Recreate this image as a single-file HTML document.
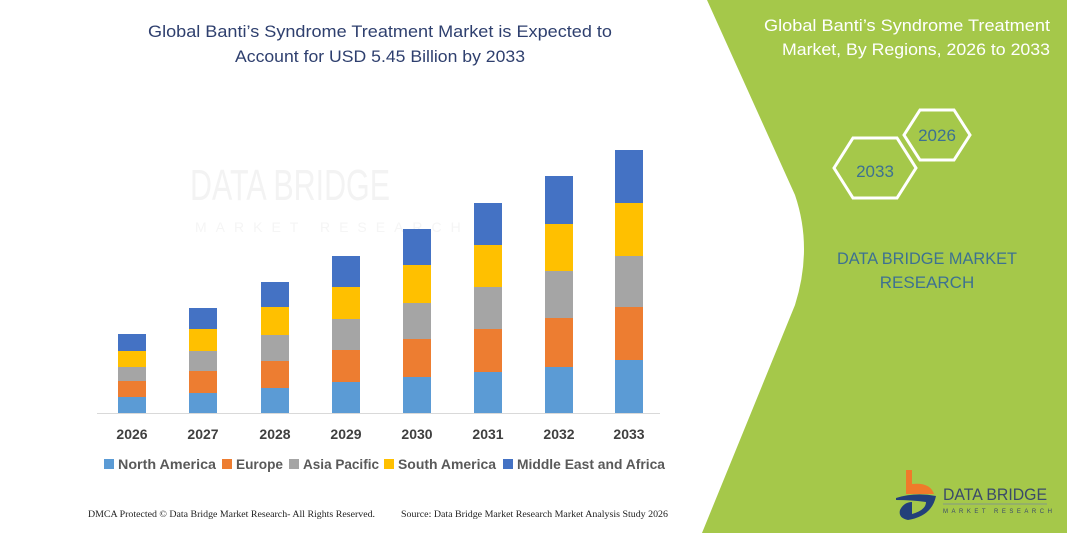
<!DOCTYPE html>
<html><head><meta charset="utf-8"><style>
html,body{margin:0;padding:0;background:#fff;}
svg{display:block;}
</style></head><body>
<svg width="1067" height="533" viewBox="0 0 1067 533" xmlns="http://www.w3.org/2000/svg" font-family="Liberation Sans, sans-serif">
<rect width="1067" height="533" fill="#fff"/>
<!-- green panel -->
<path d="M707,0 L1067,0 L1067,533 L702,533 L795,305 Q813,248 795,195 Z" fill="#a5c84a"/>
<!-- watermark -->
<text x="190" y="200" font-size="44" fill="#f3f3f3" textLength="200" lengthAdjust="spacingAndGlyphs">DATA BRIDGE</text>
<text x="195" y="232" font-size="14" fill="#f5f5f5" letter-spacing="9">MARKET RESEARCH</text>
<!-- title -->
<g fill="#2e3f6e" font-size="17" text-anchor="middle">
<text x="380" y="37" textLength="464" lengthAdjust="spacingAndGlyphs">Global Banti’s Syndrome Treatment Market is Expected to</text>
<text x="380" y="62" textLength="290" lengthAdjust="spacingAndGlyphs">Account for USD 5.45 Billion by 2033</text>
</g>
<!-- axis -->
<line x1="97" y1="413.5" x2="660" y2="413.5" stroke="#d9d9d9" stroke-width="1"/>
<!-- bars -->
<g>
<g transform="translate(118,0)"><rect y="397" width="28" height="16" fill="#5b9bd5"/><rect y="381" width="28" height="16" fill="#ed7d31"/><rect y="367" width="28" height="14" fill="#a5a5a5"/><rect y="351" width="28" height="16" fill="#ffc000"/><rect y="334" width="28" height="17" fill="#4472c4"/></g>
<g transform="translate(189,0)"><rect y="393" width="28" height="20" fill="#5b9bd5"/><rect y="371" width="28" height="22" fill="#ed7d31"/><rect y="351" width="28" height="20" fill="#a5a5a5"/><rect y="329" width="28" height="22" fill="#ffc000"/><rect y="308" width="28" height="21" fill="#4472c4"/></g>
<g transform="translate(261,0)"><rect y="388" width="28" height="25" fill="#5b9bd5"/><rect y="361" width="28" height="27" fill="#ed7d31"/><rect y="335" width="28" height="26" fill="#a5a5a5"/><rect y="307" width="28" height="28" fill="#ffc000"/><rect y="282" width="28" height="25" fill="#4472c4"/></g>
<g transform="translate(332,0)"><rect y="382" width="28" height="31" fill="#5b9bd5"/><rect y="350" width="28" height="32" fill="#ed7d31"/><rect y="319" width="28" height="31" fill="#a5a5a5"/><rect y="287" width="28" height="32" fill="#ffc000"/><rect y="256" width="28" height="31" fill="#4472c4"/></g>
<g transform="translate(403,0)"><rect y="377" width="28" height="36" fill="#5b9bd5"/><rect y="339" width="28" height="38" fill="#ed7d31"/><rect y="303" width="28" height="36" fill="#a5a5a5"/><rect y="265" width="28" height="38" fill="#ffc000"/><rect y="229" width="28" height="36" fill="#4472c4"/></g>
<g transform="translate(474,0)"><rect y="372" width="28" height="41" fill="#5b9bd5"/><rect y="329" width="28" height="43" fill="#ed7d31"/><rect y="287" width="28" height="42" fill="#a5a5a5"/><rect y="245" width="28" height="42" fill="#ffc000"/><rect y="203" width="28" height="42" fill="#4472c4"/></g>
<g transform="translate(545,0)"><rect y="367" width="28" height="46" fill="#5b9bd5"/><rect y="318" width="28" height="49" fill="#ed7d31"/><rect y="271" width="28" height="47" fill="#a5a5a5"/><rect y="224" width="28" height="47" fill="#ffc000"/><rect y="176" width="28" height="48" fill="#4472c4"/></g>
<g transform="translate(615,0)"><rect y="360" width="28" height="53" fill="#5b9bd5"/><rect y="307" width="28" height="53" fill="#ed7d31"/><rect y="256" width="28" height="51" fill="#a5a5a5"/><rect y="203" width="28" height="53" fill="#ffc000"/><rect y="150" width="28" height="53" fill="#4472c4"/></g>
</g>
<!-- year labels -->
<g fill="#404040" font-size="14" font-weight="bold" text-anchor="middle">
<text x="132" y="439">2026</text><text x="203" y="439">2027</text><text x="275" y="439">2028</text><text x="346" y="439">2029</text>
<text x="417" y="439">2030</text><text x="488" y="439">2031</text><text x="559" y="439">2032</text><text x="629" y="439">2033</text>
</g>
<!-- legend -->
<g font-size="14" font-weight="bold" fill="#595959">
<rect x="104" y="459" width="10" height="10" fill="#5b9bd5"/><text x="118" y="469" textLength="98" lengthAdjust="spacingAndGlyphs">North America</text>
<rect x="222" y="459" width="10" height="10" fill="#ed7d31"/><text x="236" y="469" textLength="47" lengthAdjust="spacingAndGlyphs">Europe</text>
<rect x="289" y="459" width="10" height="10" fill="#a5a5a5"/><text x="303" y="469" textLength="76" lengthAdjust="spacingAndGlyphs">Asia Pacific</text>
<rect x="384" y="459" width="10" height="10" fill="#ffc000"/><text x="398" y="469" textLength="98" lengthAdjust="spacingAndGlyphs">South America</text>
<rect x="503" y="459" width="10" height="10" fill="#4472c4"/><text x="517" y="469" textLength="148" lengthAdjust="spacingAndGlyphs">Middle East and Africa</text>
</g>
<!-- footer -->
<g font-family="Liberation Serif, serif" font-size="9" fill="#222">
<text x="88" y="517" textLength="287" lengthAdjust="spacingAndGlyphs">DMCA Protected © Data Bridge Market Research-  All Rights Reserved.</text>
<text x="401" y="517" textLength="267" lengthAdjust="spacingAndGlyphs">Source: Data Bridge Market Research  Market Analysis Study 2026</text>
</g>
<!-- right panel -->
<g fill="#fff" font-size="17" text-anchor="end">
<text x="1050" y="31" textLength="286" lengthAdjust="spacingAndGlyphs">Global Banti’s Syndrome Treatment</text>
<text x="1050" y="55" textLength="268" lengthAdjust="spacingAndGlyphs">Market, By Regions, 2026 to 2033</text>
</g>
<polygon points="904,135 920,110 954,110 970,135 954,160 920,160" fill="none" stroke="#fff" stroke-width="3"/>
<polygon points="834,168 853,138 897,138 916,168 897,198 853,198" fill="none" stroke="#fff" stroke-width="3"/>
<g fill="#3d7191" font-size="17" text-anchor="middle">
<text x="937" y="141">2026</text>
<text x="875" y="177">2033</text>
<text x="927" y="264" textLength="180" lengthAdjust="spacingAndGlyphs">DATA BRIDGE MARKET</text>
<text x="927" y="288">RESEARCH</text>
</g>
<!-- logo -->
<path d="M906,470 L912,470 L912,484 Q930,482 934,494 L912,494 L906,494 Z" fill="#f07a2a"/>
<path d="M896,498 Q915,492 936,496 Q932,516 908,520 Q898,518 900,510 Q904,502 912,502 L912,514 Q926,510 926,502 Q912,500 896,500 Z" fill="#23407a"/>
<text x="943" y="500" font-size="17" fill="#3a4a6a" textLength="104" lengthAdjust="spacingAndGlyphs">DATA BRIDGE</text>
<line x1="943" y1="504" x2="1047" y2="504" stroke="#7a8a9a" stroke-width="0.8"/>
<text x="943" y="513" font-size="6" fill="#3a4a6a" letter-spacing="3.5">MARKET RESEARCH</text>
</svg>
</body></html>
